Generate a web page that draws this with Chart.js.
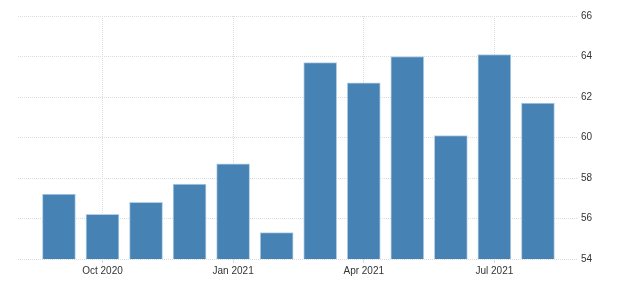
<!DOCTYPE html>
<html>
<head>
<meta charset="utf-8">
<script src="https://cdn.jsdelivr.net/npm/chart.js@4"></script>
<style>
    html, body { margin: 0; padding: 0; background: #fff; }
    #wrap { width: 624px; height: 290px; }
</style>
</head>
<body>
<div id="wrap"><canvas id="chart" width="624" height="290"></canvas></div>
<script>
// Monthly values, Sep 2020 - Aug 2021
const months = ['Sep 2020', 'Oct 2020', 'Nov 2020', 'Dec 2020', 'Jan 2021', 'Feb 2021',
                'Mar 2021', 'Apr 2021', 'May 2021', 'Jun 2021', 'Jul 2021', 'Aug 2021'];
const values = [57.2, 56.2, 56.8, 57.7, 58.7, 55.3, 63.7, 62.7, 64.0, 60.1, 64.1, 61.7];
const xTickIndex = [1, 4, 7, 10];
const yTicks = [54, 56, 58, 60, 62, 64, 66];

const tickFont = { family: 'Liberation Sans', size: 10 };

new Chart(document.getElementById('chart'), {
    type: 'bar',
    data: {
        datasets: [{
            data: values.map((v, i) => ({ x: i, y: v })),
            backgroundColor: '#4682b4',
            borderColor: '#b4cfe6',
            borderWidth: 1,
            barThickness: 33
        }]
    },
    options: {
        responsive: false,
        animation: false,
        layout: { padding: { left: 18, top: 16, right: 0, bottom: 0 } },
        plugins: { legend: { display: false }, tooltip: { enabled: false } },
        scales: {
            x: {
                type: 'linear',
                offset: false,
                min: -0.94,
                max: 11.92,
                afterBuildTicks: (scale) => {
                    scale.ticks = xTickIndex.map(v => ({ value: v }));
                },
                afterFit: (scale) => { scale.height = 31; },
                ticks: {
                    callback: (v) => months[v],
                    color: '#333',
                    font: tickFont,
                    maxRotation: 0,
                    padding: 2
                },
                grid: { color: '#dcdcdc', tickLength: 4, offset: false },
                border: { display: false, dash: [1, 1] }
            },
            y: {
                position: 'right',
                min: 54,
                max: 66,
                afterBuildTicks: (scale) => {
                    scale.ticks = yTicks.map(v => ({ value: v }));
                },
                afterFit: (scale) => { scale.width = 46; },
                ticks: { color: '#333', font: tickFont, padding: 3 },
                grid: { color: '#dcdcdc', drawTicks: false },
                border: { display: false, dash: [1, 1] }
            }
        }
    }
});
</script>
</body>
</html>
